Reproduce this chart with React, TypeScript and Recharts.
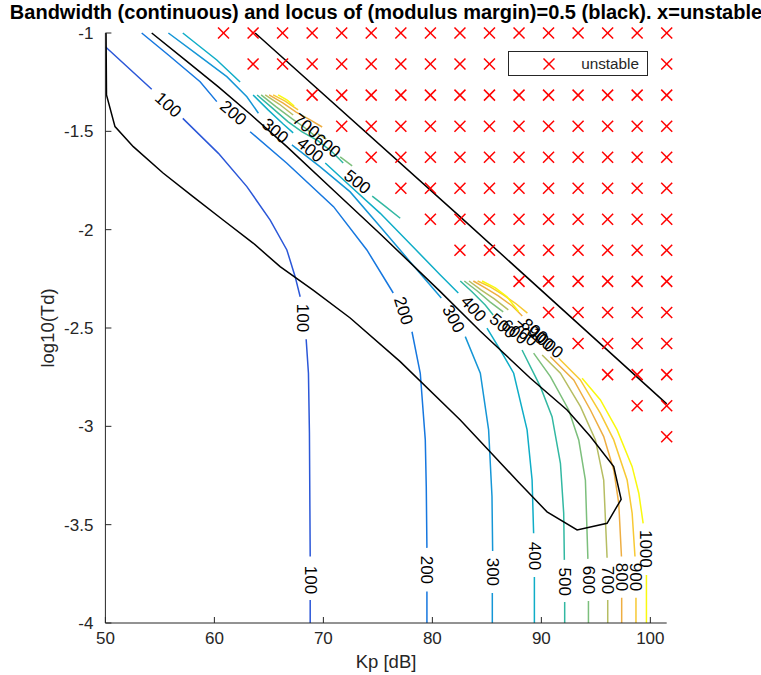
import React from 'react';
import { ComposedChart, Line, Scatter, XAxis, YAxis } from 'recharts';

type Pt = [number, number];

// Kp grid [dB] and log10(Td) rows of the stability scan
const kpGrid = [
  50, 52.71, 55.42, 58.13, 60.84, 63.55, 66.26, 68.97, 71.68, 74.39, 77.11, 79.82, 82.53, 85.24,
  87.95, 90.66, 93.37, 96.08, 98.79, 101.5,
];
const logTdRows = [
  -1, -1.158, -1.316, -1.474, -1.632, -1.789, -1.947, -2.105, -2.263, -2.421, -2.579, -2.737,
  -2.895, -3.053,
];
// first unstable Kp column in each row (everything to the right is unstable too)
const firstUnstableCol = [4, 5, 7, 8, 9, 10, 11, 12, 14, 15, 16, 17, 18, 19];

// bandwidth contours [Kp, log10(Td)], split where the line is broken (labels / NaN cells)
const c100: Pt[][] = [
  [[50.0, -1.07], [54.25, -1.286]],
  [[57.1, -1.434], [60.37, -1.612], [62.98, -1.781], [65.12, -1.951], [66.65, -2.103], [67.41, -2.239], [67.87, -2.341]],
  [[68.42, -2.557], [68.63, -2.73], [68.72, -3.035], [68.79, -3.662]],
  [[68.79, -3.883], [68.79, -4]],
];
const c200: Pt[][] = [
  [[53.33, -1], [55.78, -1.112], [58.69, -1.248], [60.22, -1.349]],
  [[63.28, -1.502], [66.65, -1.662], [70.93, -1.883], [73.99, -2.103], [75.68, -2.256], [76.41, -2.322]],
  [[78.13, -2.519], [78.89, -2.73], [79.35, -3.069], [79.44, -3.307], [79.5, -3.618]],
  [[79.5, -3.84], [79.5, -4]],
];
const c300: Pt[][] = [
  [[55.78, -1], [58.69, -1.12], [61.14, -1.222], [62.98, -1.324], [64.04, -1.408]],
  [[67.11, -1.569], [69.71, -1.681], [72.46, -1.808], [75.22, -1.985], [77.97, -2.164], [80.82, -2.347]],
  [[83.02, -2.544], [84.4, -2.73], [85.16, -3.018], [85.47, -3.357], [85.53, -3.634]],
  [[85.5, -3.847], [85.5, -4]],
];
const c400: Pt[][] = [
  [[57.1, -1], [58.69, -1.07], [60.22, -1.137], [62.36, -1.249]],
  [[63.55, -1.315], [64.93, -1.391], [66.31, -1.463], [67.23, -1.508]],
  [[70.17, -1.661], [72.46, -1.778], [75.22, -1.917], [77.97, -2.073], [80.73, -2.23], [82.38, -2.322]],
  [[85.01, -2.501], [86.24, -2.612], [87.46, -2.73], [88.69, -3.018], [89.15, -3.273], [89.29, -3.544]],
  [[89.36, -3.766], [89.36, -4]],
];
const c500: Pt[][] = [
  [[63.92, -1.315], [65.3, -1.381], [66.77, -1.452], [68.05, -1.503], [69.52, -1.549], [70.81, -1.605], [71.82, -1.661]],
  [[74.48, -1.829], [75.77, -1.885], [77.05, -1.942]],
  [[82.56, -2.261], [83.66, -2.317], [84.85, -2.383], [85.58, -2.434]],
  [[88.23, -2.612], [89.91, -2.798], [90.98, -2.951], [91.75, -3.188], [92.05, -3.442], [92.11, -3.679]],
  [[92.14, -3.893], [92.14, -4]],
];
const c600: Pt[][] = [
  [[64.29, -1.315], [65.67, -1.376], [67.14, -1.437], [68.33, -1.483], [69.25, -1.524]],
  [[71.54, -1.63], [72.64, -1.676]],
  [[82.93, -2.261], [84.12, -2.312], [85.31, -2.368], [86.5, -2.418]],
  [[89.29, -2.628], [90.83, -2.747], [92.51, -2.917], [93.43, -3.069], [94.04, -3.273], [94.27, -3.674]],
  [[94.32, -3.888], [94.32, -4]],
];
const c700: Pt[][] = [
  [[64.66, -1.315], [65.94, -1.361], [67.23, -1.417]],
  [[69.52, -1.513], [70.26, -1.539]],
  [[83.36, -2.261], [84.49, -2.307], [85.69, -2.352], [86.97, -2.408]],
  [[90.07, -2.637], [91.75, -2.73], [93.59, -2.9], [94.96, -3.069], [95.72, -3.273], [96.03, -3.668]],
  [[96.09, -3.883], [96.09, -4]],
];
const c800: Pt[][] = [
  [[65.02, -1.315], [66.31, -1.356], [67.5, -1.402], [68.79, -1.442], [69.89, -1.478]],
  [[83.76, -2.261], [84.85, -2.296], [86.05, -2.337], [87.33, -2.388], [88.25, -2.439]],
  [[90.83, -2.646], [92.97, -2.764], [94.5, -2.917], [95.72, -3.052], [96.64, -3.222], [97.1, -3.391], [97.35, -3.662]],
  [[97.37, -3.872], [97.37, -4]],
];
const c900: Pt[][] = [
  [[65.39, -1.315], [66.49, -1.346], [67.68, -1.391]],
  [[84.15, -2.261], [85.31, -2.291], [86.51, -2.332], [87.71, -2.378], [88.72, -2.424]],
  [[91.59, -2.654], [93.58, -2.764], [95.42, -2.934], [96.64, -3.069], [97.87, -3.273], [98.33, -3.442], [98.59, -3.662]],
  [[98.68, -3.872], [98.68, -4]],
];
const c1000: Pt[][] = [
  [[65.85, -1.315], [66.68, -1.341], [67.32, -1.371]],
  [[84.56, -2.261], [85.78, -2.296], [86.85, -2.341], [87.92, -2.417]],
  [[93.74, -2.755], [95.42, -2.866], [96.95, -3.018], [98.33, -3.205], [98.94, -3.34], [99.34, -3.493]],
  [[99.64, -3.756], [99.64, -4]],
];

const contours = [c100, c200, c300, c400, c500, c600, c700, c800, c900, c1000];
const contourColors = [
  '#2b57d8', '#1677df', '#1596d6', '#0fadc7', '#32b8a2',
  '#7cbf7c', '#b6bd62', '#eeae42', '#f7c934', '#f9f90e',
];

// (modulus margin) = 0.5 locus
const locusLoop: Pt[] = [
  [50.06, -1], [50.1, -1.315], [50.88, -1.476], [52.56, -1.578], [55.29, -1.712], [58.04, -1.832],
  [60.8, -1.951], [63.55, -2.068], [66.03, -2.188], [69.06, -2.307], [72.46, -2.449], [77.05, -2.671],
  [82.56, -2.968], [85.31, -3.13], [87.89, -3.283], [90.52, -3.435], [93.28, -3.527], [96.03, -3.493],
  [97.32, -3.371], [96.64, -3.205], [94.5, -3.052], [92.36, -2.917], [88.97, -2.754], [84.38, -2.515],
  [80.73, -2.315], [75.22, -2.022], [70.9, -1.798], [66.65, -1.578], [63.28, -1.412], [60.34, -1.273],
  [57.31, -1.137], [54.25, -1],
];
const locusRight: Pt[] = [[63.74, -1], [82.56, -1.935], [101.5, -2.886]];

// clabel texts: [text, Kp, log10(Td), rotation]
const contourLabels: [string, number, number, number][] = [
  ['100', 55.75, -1.366, 42], ['100', 68.05, -2.449, 90], ['100', 68.79, -3.781, 90],
  ['200', 61.72, -1.407, 40], ['200', 77.33, -2.413, 72], ['200', 79.5, -3.73, 90],
  ['300', 65.57, -1.498, 40], ['300', 81.92, -2.454, 62], ['300', 85.5, -3.74, 90],
  ['400', 68.79, -1.595, 40], ['400', 83.76, -2.403, 48], ['400', 89.36, -3.659, 90],
  ['500', 73.11, -1.758, 38], ['500', 86.46, -2.49, 40], ['500', 92.14, -3.79, 90],
  ['600', 70.34, -1.574, 38], ['600', 87.52, -2.52, 40], ['600', 94.32, -3.781, 90],
  ['700', 68.42, -1.473, 38], ['700', 88.44, -2.53, 40], ['700', 96.09, -3.781, 90],
  ['800', 89.36, -2.515, 40], ['800', 97.37, -3.766, 90],
  ['900', 89.91, -2.551, 40], ['900', 98.68, -3.766, 90],
  ['1000', 90.46, -2.576, 40], ['1000', 99.55, -3.623, 90],
];

const xTicks = [50, 60, 70, 80, 90, 100];
const yTicks = [-4, -3.5, -3, -2.5, -2, -1.5, -1];

const FONT = '"Liberation Sans", Arial, Helvetica, sans-serif';
const AX = '#262626';

const toLine = (segs: Pt[][]) =>
  segs.flatMap((s, i) => [
    ...(i ? [{ x: s[0][0], y: null as number | null }] : []),
    ...s.map(([x, y]) => ({ x, y })),
  ]);

const unstablePts = logTdRows.flatMap((t, j) =>
  kpGrid.slice(firstUnstableCol[j]).map((k) => ({ x: k, y: t })),
);
const labelPts = contourLabels.map(([text, x, y, angle]) => ({ x, y, text, angle }));

const XMark = (p: any) => {
  const { cx, cy } = p;
  const s = 5.5;
  return (
    <g stroke="#ff0000" strokeWidth={1.5}>
      <line x1={cx - s} y1={cy - s} x2={cx + s} y2={cy + s} />
      <line x1={cx - s} y1={cy + s} x2={cx + s} y2={cy - s} />
    </g>
  );
};

const ClabelText = (p: any) => {
  const { cx, cy, payload } = p;
  return (
    <text
      x={cx}
      y={cy}
      transform={`rotate(${payload.angle} ${cx} ${cy})`}
      textAnchor="middle"
      dominantBaseline="central"
      fontSize={17}
      fontFamily={FONT}
      fill="#000"
    >
      {payload.text}
    </text>
  );
};

const XTick = (p: any) => (
  <g>
    <line x1={p.x} y1={p.y} x2={p.x} y2={p.y - 6} stroke={AX} />
    <text x={p.x} y={p.y + 21} textAnchor="middle" fill={AX} fontSize={17} fontFamily={FONT}>
      {p.payload.value}
    </text>
  </g>
);

const YTick = (p: any) => (
  <g>
    <line x1={p.x} y1={p.y} x2={p.x + 6} y2={p.y} stroke={AX} />
    <text x={p.x - 12} y={p.y + 6} textAnchor="end" fill={AX} fontSize={17} fontFamily={FONT}>
      {p.payload.value}
    </text>
  </g>
);

export default function App() {
  return (
    <div style={{ position: 'relative', width: 761, height: 675, fontFamily: FONT }}>
      <style>{'body{margin:0;overflow:hidden}'}</style>
      <div
        style={{
          position: 'absolute',
          left: -14,
          width: 800,
          top: 1,
          textAlign: 'center',
          fontWeight: 'bold',
          fontSize: 20,
          lineHeight: '22px',
          whiteSpace: 'nowrap',
          color: '#000',
        }}
      >
        Bandwidth (continuous) and locus of (modulus margin)=0.5 (black). x=unstable
      </div>
      <ComposedChart
        width={761}
        height={675}
        margin={{ top: 33, right: 94.3, bottom: 22, left: 45.4 }}
        style={{ fontFamily: FONT }}
      >
        <XAxis
          type="number"
          dataKey="x"
          domain={[50, 101.5]}
          ticks={xTicks}
          height={30}
          tickSize={0}
          tickMargin={0}
          tickLine={false}
          tick={<XTick />}
          axisLine={{ stroke: AX }}
          label={{
            value: 'Kp [dB]',
            content: (props: any) => {
              const vb = props.viewBox;
              return (
                <text x={vb.x + vb.width / 2} y={668} textAnchor="middle" fill={AX} fontSize={18.5} fontFamily={FONT}>
                  Kp [dB]
                </text>
              );
            },
          }}
        />
        <YAxis
          type="number"
          dataKey="y"
          domain={[-4, -1]}
          ticks={yTicks}
          width={60}
          tickSize={0}
          tickMargin={0}
          tickLine={false}
          tick={<YTick />}
          axisLine={{ stroke: AX }}
          label={{
            value: 'log10(Td)',
            content: (props: any) => {
              const vb = props.viewBox;
              const cy = vb.y + vb.height / 2;
              return (
                <text
                  x={47}
                  y={cy}
                  transform={`rotate(-90 47 ${cy})`}
                  textAnchor="middle"
                  dominantBaseline="central"
                  fill={AX}
                  fontSize={18.5}
                  fontFamily={FONT}
                >
                  log10(Td)
                </text>
              );
            },
          }}
        />
        {contours.map((segs, i) => (
          <Line
            key={`c${i}`}
            data={toLine(segs)}
            dataKey="y"
            stroke={contourColors[i]}
            strokeWidth={1.5}
            dot={false}
            activeDot={false}
            isAnimationActive={false}
            type="linear"
          />
        ))}
        <Scatter data={labelPts} dataKey="y" shape={<ClabelText />} isAnimationActive={false} />
        <Line
          data={toLine([locusLoop])}
          dataKey="y"
          stroke="#000"
          strokeWidth={1.5}
          dot={false}
          activeDot={false}
          isAnimationActive={false}
          type="linear"
        />
        <Line
          data={toLine([locusRight])}
          dataKey="y"
          stroke="#000"
          strokeWidth={1.5}
          dot={false}
          activeDot={false}
          isAnimationActive={false}
          type="linear"
        />
        <Scatter data={unstablePts} dataKey="y" shape={<XMark />} isAnimationActive={false} />
      </ComposedChart>
      <div
        style={{
          position: 'absolute',
          left: 508,
          top: 51,
          width: 138,
          height: 23,
          border: `1px solid ${AX}`,
          background: '#fff',
          display: 'flex',
          alignItems: 'center',
        }}
      >
        <svg width={14} height={14} style={{ marginLeft: 33 }}>
          <g stroke="#ff0000" strokeWidth={1.5}>
            <line x1={1.5} y1={1.5} x2={12.5} y2={12.5} />
            <line x1={1.5} y1={12.5} x2={12.5} y2={1.5} />
          </g>
        </svg>
        <span style={{ marginLeft: 'auto', marginRight: 8, fontSize: 15.3, color: AX }}>unstable</span>
      </div>
    </div>
  );
}
